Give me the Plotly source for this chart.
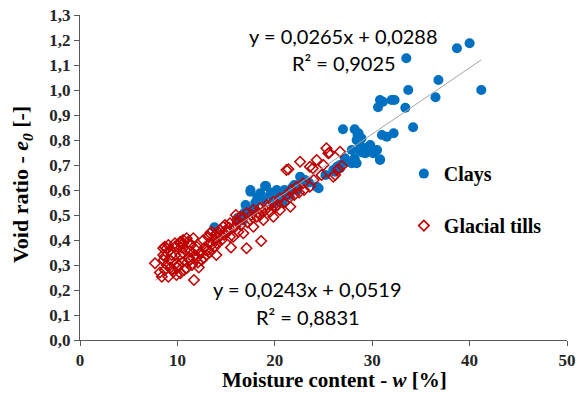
import plotly.graph_objects as go

# ---- data ----
clay_w = [38.7, 40.0, 33.5, 36.8, 33.7, 41.2, 36.5, 30.8, 32.0, 32.3, 30.6, 33.4, 27.0, 28.2, 34.2,
          28.5, 28.9, 31.0, 32.2, 31.5, 28.6, 28.4, 28.7, 27.9, 28.7, 29.8, 30.1, 29.3, 28.2, 27.2,
          30.8, 27.9, 30.8, 28.4, 26.4, 26.7, 26.2, 24.3, 22.6, 22.9, 24.5, 26.7, 27.4, 19.0, 17.5,
          17.5, 19.1, 18.5, 20.2, 19.5, 21.0, 20.5, 13.8, 16.2, 17.5, 16.7, 18.0, 18.8, 19.8, 21.5,
          22.0, 23.5, 20.8, 17.0, 29.5, 29.0, 30.5, 31.1, 18.2, 19.6, 20.9, 22.3, 17.9, 16.9, 21.8,
          23.1, 25.2, 26.0]
clay_e = [1.167, 1.187, 1.127, 1.04, 1.0, 1.0, 0.971, 0.96, 0.96, 0.96, 0.931, 0.929, 0.843, 0.843, 0.851,
          0.82, 0.807, 0.82, 0.827, 0.813, 0.827, 0.80, 0.787, 0.76, 0.76, 0.78, 0.747, 0.747, 0.727, 0.727,
          0.72, 0.707, 0.723, 0.707, 0.693, 0.687, 0.673, 0.613, 0.653, 0.64, 0.607, 0.70, 0.713, 0.616, 0.593,
          0.60, 0.616, 0.587, 0.60, 0.58, 0.60, 0.573, 0.451, 0.488, 0.516, 0.48, 0.55, 0.56, 0.545, 0.58,
          0.62, 0.63, 0.55, 0.54, 0.77, 0.75, 0.76, 0.953, 0.57, 0.59, 0.565, 0.60, 0.53, 0.51, 0.61,
          0.64, 0.66, 0.68]

till_w = [7.7, 8.4, 8.7, 8.9, 8.7, 10.3, 11.7, 17.1, 18.6, 21.6,
          26.0, 25.5, 26.7, 25.3, 22.6, 23.6, 24.3, 21.4,
          25.6, 23.9, 26.9, 26.5, 26.2, 21.2,
          8.55, 9.07, 9.75, 10.95, 10.6,
          8.7, 9.2, 9.9, 10.3, 10.8, 9.6, 10.3, 10.95, 11.3, 9.07, 9.9,
          8.55, 9.24, 9.75, 10.27, 10.6, 11.12, 11.63, 11.98, 12.66, 13.17, 13.52, 14.03, 14.37, 14.89,
          15.4, 15.91, 16.25, 12.32, 13.17, 13.86, 14.55, 15.4, 15.06, 14.03, 11.29, 10.6,
          13.35, 14.71, 16.09, 16.43, 17.12, 17.8, 18.48, 19.17, 19.85, 20.53, 21.22, 21.73, 22.25,
          15.74, 16.77, 17.8, 18.82, 19.85, 20.53, 18.14, 19.51,
          22.9, 23.6,
          11.5, 12.0, 12.5, 13.0, 10.0, 11.0, 12.8, 13.5, 14.5, 9.3, 8.2, 10.7, 12.2, 13.8, 15.0,
          16.5, 17.5, 16.0, 17.2, 18.5, 19.0, 20.0, 21.0, 22.0, 23.0, 24.0, 24.8, 25.0, 15.5, 14.0,
          8.9, 9.5, 10.1, 10.5, 11.2, 11.8, 12.4, 12.9, 13.4, 8.6, 9.4, 10.4, 11.4, 12.1, 12.7,
          13.3, 14.2, 14.8, 15.3, 16.2, 16.8, 17.6, 18.3, 19.3, 20.3, 21.5, 22.5, 9.8, 11.9, 13.9]
till_e = [0.307, 0.253, 0.28, 0.367, 0.373, 0.393, 0.24, 0.367, 0.396, 0.533,
          0.653, 0.747, 0.753, 0.767, 0.713, 0.693, 0.72, 0.683,
          0.749, 0.687, 0.696, 0.683, 0.66, 0.68,
          0.367, 0.38, 0.387, 0.407, 0.387,
          0.333, 0.32, 0.307, 0.34, 0.36, 0.273, 0.267, 0.287, 0.32, 0.253, 0.26,
          0.34, 0.36, 0.373, 0.387, 0.40, 0.393, 0.407, 0.373, 0.40, 0.413, 0.433, 0.427, 0.44, 0.46,
          0.467, 0.453, 0.433, 0.347, 0.36, 0.373, 0.40, 0.413, 0.433, 0.387, 0.353, 0.347,
          0.427, 0.453, 0.48, 0.493, 0.507, 0.52, 0.527, 0.54, 0.553, 0.567, 0.58, 0.60, 0.613,
          0.413, 0.427, 0.453, 0.48, 0.493, 0.52, 0.493, 0.513,
          0.627, 0.613,
          0.30, 0.33, 0.32, 0.34, 0.29, 0.31, 0.37, 0.38, 0.42, 0.29, 0.27, 0.28, 0.29, 0.40, 0.44,
          0.46, 0.48, 0.50, 0.47, 0.50, 0.52, 0.53, 0.55, 0.58, 0.60, 0.64, 0.66, 0.70, 0.37, 0.34,
          0.30, 0.28, 0.30, 0.31, 0.33, 0.34, 0.35, 0.36, 0.39, 0.32, 0.34, 0.37, 0.38, 0.31, 0.33,
          0.35, 0.41, 0.42, 0.45, 0.47, 0.49, 0.50, 0.51, 0.53, 0.54, 0.57, 0.59, 0.34, 0.36, 0.42]

# trendline equations (slope, intercept)
clay_fit = (0.0265, 0.0288)
till_fit = (0.0243, 0.0519)

y_ticks = [i / 10 for i in range(14)]
y_ticklabels = ["0,0", "0,1", "0,2", "0,3", "0,4", "0,5", "0,6", "0,7", "0,8", "0,9", "1,0", "1,1", "1,2", "1,3"]
x_ticks = [0, 10, 20, 30, 40, 50]

BLUE = "#0070C0"
RED = "#C00000"
SERIF = "Liberation Serif"
SANS = "Lato"

fig = go.Figure()

# trendlines
cx = [min(clay_w), max(clay_w)]
tx = [min(till_w), max(till_w)]
fig.add_trace(go.Scatter(x=tx, y=[till_fit[0] * v + till_fit[1] for v in tx], mode="lines",
                         line=dict(color="#A6A6A6", width=1), showlegend=False, hoverinfo="skip"))

fig.add_trace(go.Scatter(x=clay_w, y=clay_e, mode="markers", name="Clays", legendgroup="a",
                         marker=dict(symbol="circle", size=10, color=BLUE)))
fig.add_trace(go.Scatter(x=till_w, y=till_e, mode="markers", name="Glacial tills", legendgroup="b",
                         marker=dict(symbol="diamond-open", size=8, color=RED, line=dict(width=1.6, color=RED))))
fig.add_trace(go.Scatter(x=cx, y=[clay_fit[0] * v + clay_fit[1] for v in cx], mode="lines",
                         line=dict(color="#A6A6A6", width=1), showlegend=False, hoverinfo="skip"))

ann_font = dict(family=SANS, size=20, color="#000000")
fig.add_annotation(x=27.1, y=1.215, text="y = 0,0265x + 0,0288", showarrow=False, font=ann_font)
fig.add_annotation(x=27.1, y=1.108, text="R² = 0,9025", showarrow=False, font=ann_font)
fig.add_annotation(x=23.4, y=0.204, text="y = 0,0243x + 0,0519", showarrow=False, font=ann_font)
fig.add_annotation(x=23.4, y=0.094, text="R² = 0,8831", showarrow=False, font=ann_font)

# axis titles
title_font = dict(family=SERIF, size=21, color="#000000", weight="bold")
fig.add_annotation(xref="paper", yref="paper", x=0.5216, y=-0.163, xanchor="center", yanchor="bottom",
                   text="Moisture content - <i>w</i> [%]", showarrow=False, font=title_font,
                   borderpad=0)
fig.add_annotation(xref="paper", yref="paper", x=-0.119, y=0.477, xanchor="center", yanchor="middle",
                   text="Void ratio - <i>e</i><sub><i>0</i></sub> [-]", textangle=-90, showarrow=False,
                   font=dict(family=SERIF, size=22, color="#000000", weight="bold"))

axis_common = dict(showgrid=False, zeroline=False, showline=True, linecolor="#595959", linewidth=1,
                   ticks="outside", ticklen=5, tickcolor="#595959", automargin=False,
                   tickfont=dict(family=SERIF, size=17, color="#262626", weight="bold"))

fig.update_xaxes(range=[0, 50], tickvals=x_ticks, **axis_common)
fig.update_yaxes(range=[0, 1.3], tickvals=y_ticks, ticktext=y_ticklabels, **axis_common)

fig.update_layout(
    width=579, height=393,
    margin=dict(l=80, r=12, t=15, b=53, autoexpand=False),
    paper_bgcolor="white", plot_bgcolor="white",
    legend=dict(x=0.665, y=0.572, xanchor="left", yanchor="top", bgcolor="rgba(0,0,0,0)",
                font=dict(family=SERIF, size=20, color="#000000", weight="bold"),
                tracegroupgap=23, itemwidth=30),
)

fig.write_html("out.html")
